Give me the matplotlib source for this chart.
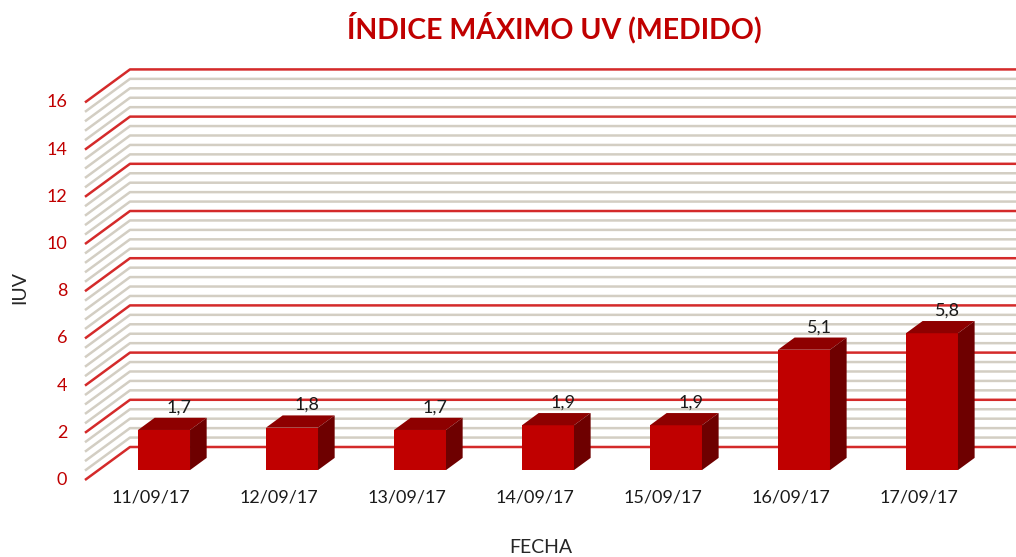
import matplotlib
matplotlib.use("Agg")
import matplotlib.pyplot as plt
from matplotlib.patches import Polygon
import numpy as np

plt.rcParams['font.family'] = ['Lato', 'DejaVu Sans']

# ---- data ----
fechas = ["11/09/17", "12/09/17", "13/09/17", "14/09/17", "15/09/17", "16/09/17", "17/09/17"]
iuv = [1.7, 1.8, 1.7, 1.9, 1.9, 5.1, 5.8]
etiquetas = ["1,7", "1,8", "1,7", "1,9", "1,9", "5,1", "5,8"]
y_ticks = [0, 2, 4, 6, 8, 10, 12, 14, 16]

# ---- style / geometry ----
RED = "#C00000"
TOP = "#8E0000"
SIDE = "#6E0000"
GRID_RED = "#D42A2A"
GRID_GRAY = "#D3CEC3"

fig = plt.figure(figsize=(10.16, 5.57), dpi=100)
ax = fig.add_axes([0, 0, 1, 1])
ax.set_xlim(-1.176, 6.762)
ax.set_ylim(-3.263, 20.34)
ax.axis("off")

# perspective offset for full depth (in data units)
DX = 45 / 128
DY = 33 / 23.6

def shift(x, y, d):
    return x + DX * d, y + DY * d

x_front = -0.512
x_right = 7.5

# gridlines (minor every 0.4, major every 2)
minor = np.arange(0, 16.0001, 0.4)
for v in minor:
    is_major = abs(v / 2 - round(v / 2)) < 1e-6
    col = GRID_RED if is_major else GRID_GRAY
    xb, yb = shift(x_front, v, 1)
    ax.plot([x_front, xb, x_right], [v, yb, yb], color=col, lw=1.8,
            solid_capstyle="butt", zorder=2 if is_major else 1)

# bars
W = 52 / 128
d0, d1 = 0.30, 0.67
for i, (val, lab) in enumerate(zip(iuv, etiquetas)):
    xl = i - W / 2
    xr = i + W / 2
    p0 = shift(xl, 0, d0); p1 = shift(xr, 0, d0)
    p2 = shift(xr, val, d0); p3 = shift(xl, val, d0)
    ax.add_patch(Polygon([p0, p1, p2, p3], closed=True, fc=RED, ec="none", zorder=5))
    q0 = shift(xl, val, d0); q1 = shift(xr, val, d0)
    q2 = shift(xr, val, d1); q3 = shift(xl, val, d1)
    ax.add_patch(Polygon([q0, q1, q2, q3], closed=True, fc=TOP, ec="none", zorder=5))
    s0 = shift(xr, 0, d0); s1 = shift(xr, 0, d1)
    s2 = shift(xr, val, d1); s3 = shift(xr, val, d0)
    ax.add_patch(Polygon([s0, s1, s2, s3], closed=True, fc=SIDE, ec="none", zorder=5))
    lx, ly = shift(i, val, d1)
    ax.text(lx - 0.01, ly + 0.1, lab, ha="center", va="bottom", fontsize=13,
            color="#1a1a1a", zorder=6)
    ax.text(i, -0.75, fechas[i], ha="center", va="center", fontsize=13,
            color="#1a1a1a")

# y tick labels
for t in y_ticks:
    ax.text(-0.65, t, str(t), ha="right", va="center", fontsize=13, color=RED)

# axis titles
ax.text(-1.02, 8.15, "IUV", rotation=90, ha="center", va="center",
        fontsize=14, color="#262626")
ax.text(3.05, -2.86, "FECHA", ha="center", va="center", fontsize=14,
        color="#262626")

# chart title
fig.text(554 / 1016, 1 - 28 / 557, "ÍNDICE MÁXIMO UV (MEDIDO)", ha="center",
         va="center", fontsize=20.5, fontweight="bold", color=RED)

fig.savefig("out.png", dpi=100)
